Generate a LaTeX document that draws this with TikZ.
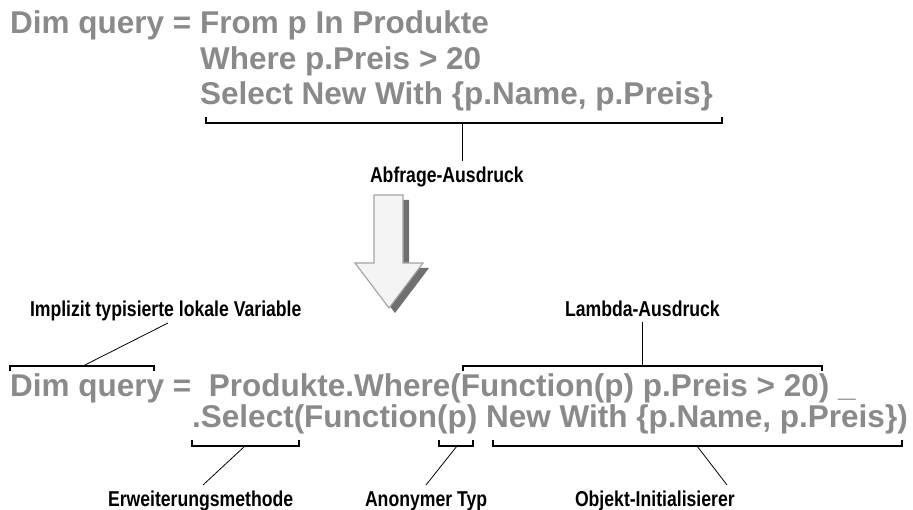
\documentclass[tikz,border=0pt]{standalone}
\usepackage{fontspec}
\setmainfont{Liberation Sans}
\newfontfamily\narrowfont{Liberation Sans}[FakeStretch=0.82]
\definecolor{codegray}{RGB}{138,138,138}
\definecolor{arrowfill}{RGB}{244,244,244}
\definecolor{arrowline}{RGB}{165,165,165}
\definecolor{arrowshadow}{RGB}{112,112,112}
\begin{document}
\begin{tikzpicture}[x=1pt,y=-1pt,
  code/.style={anchor=base west, inner sep=0pt, text=codegray,
    font=\fontsize{31.5}{31.5}\selectfont\bfseries},
  lbl/.style={anchor=base west, inner sep=0pt, outer sep=0pt,
    font=\narrowfont\fontsize{21.5}{21.5}\selectfont\bfseries},
  brk/.style={line width=1.3pt},
  stem/.style={line width=0.8pt}]
\useasboundingbox (0,0) rectangle (913,510);

% ---------- top query expression ----------
\node[code] (q1) at (10,34) {Dim query = From p In Produkte};
\node[code] (q2) at (200,70) {Where p.Preis > 20};
\node[code] (q3) at (200,105) {Select New With \{p.Name, p.Preis\}};

\draw[brk] (206,117) -- (206,123) -- (722,123) -- (722,117);
\coordinate (tbm) at (462,123);
\node[lbl] (abf) at (370,183) {Abfrage-Ausdruck};
\draw[stem] (tbm) -- (tbm |- 0,161);

% ---------- arrow ----------
\fill[arrowshadow] ([shift={(6,5)}]374,195) -- ([shift={(6,5)}]403,195) -- ([shift={(6,5)}]403,263)
  -- ([shift={(6,5)}]423,263) -- ([shift={(6,5)}]389,308) -- ([shift={(6,5)}]355,263)
  -- ([shift={(6,5)}]374,263) -- cycle;
\filldraw[fill=arrowfill, draw=arrowline, line width=1.2pt, line join=miter]
  (374,195) -- (403,195) -- (403,263) -- (423,263) -- (389,308) -- (355,263) -- (374,263) -- cycle;

% ---------- bottom method syntax ----------
\node[code] (m1) at (10,396) {Dim query =\ \ Produkte.Where(Function(p) p.Preis > 20) \_};
\node[code] (m2) at (192,428) {.Select(Function(p) New With \{p.Name, p.Preis\})};

% labels
\node[lbl] (impl) at (30,317) {Implizit typisierte lokale Variable};
\node[lbl] (lam) at (565,317) {Lambda-Ausdruck};
\node[lbl] (erw) at (108,506) {Erweiterungsmethode};
\node[lbl] (ano) at (365,506) {Anonymer Typ};
\node[lbl] (obj) at (575,506) {Objekt-Initialisierer};

% brackets above line 1
\draw[brk] (10,371) -- (10,366) -- (154,366) -- (154,371);
\draw[brk] (463,371) -- (463,366) -- (822,366) -- (822,371);
% brackets below line 2
\draw[brk] (192,440) -- (192,446) -- (299,446) -- (299,440);
\draw[brk] (439,440) -- (439,446) -- (473,446) -- (473,440);
\draw[brk] (493,440) -- (493,446) -- (902,446) -- (902,440);

% stems
\coordinate (s1a) at (83,366);   \coordinate (s1b) at (168,323);
\coordinate (s2a) at (642,366);  \coordinate (s2b) at (642,322);
\coordinate (s3a) at (245,446);  \coordinate (s3b) at (203,485);
\coordinate (s4a) at (457,446);  \coordinate (s4b) at (426,485);
\coordinate (s5a) at (697,446);  \coordinate (s5b) at (727,485);
\draw[stem] (s1a) -- (s1b);
\draw[stem] (s2a) -- (s2b);
\draw[stem] (s3a) -- (s3b);
\draw[stem] (s4a) -- (s4b);
\draw[stem] (s5a) -- (s5b);
\end{tikzpicture}
\end{document}
